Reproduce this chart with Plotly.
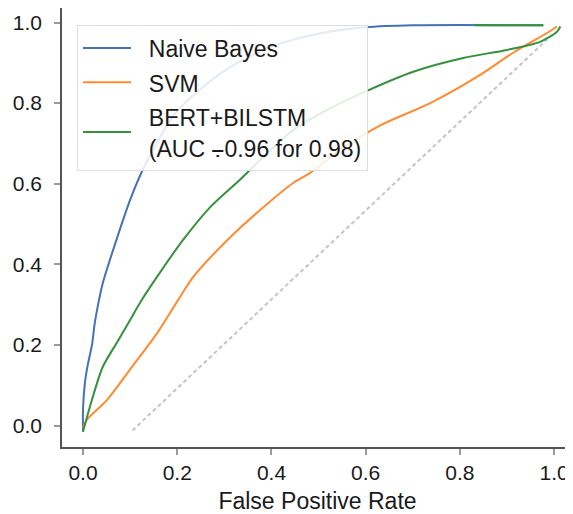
import plotly.graph_objects as go

# ROC curve data
nb_fpr = [0.0, 0.0, 0.004, 0.010, 0.019, 0.025, 0.034, 0.042, 0.064, 0.100, 0.132, 0.20, 0.30, 0.40, 0.50, 0.60, 0.70, 0.977]
nb_tpr = [-0.015, 0.04, 0.106, 0.150, 0.200, 0.255, 0.312, 0.354, 0.436, 0.560, 0.647, 0.78, 0.88, 0.94, 0.972, 0.988, 0.993, 0.993]

svm_fpr = [0.0, 0.008, 0.051, 0.104, 0.157, 0.202, 0.234, 0.306, 0.376, 0.446, 0.482, 0.546, 0.631, 0.737, 0.843, 0.913, 0.985, 1.006]
svm_tpr = [-0.005, 0.014, 0.064, 0.146, 0.229, 0.312, 0.369, 0.460, 0.535, 0.602, 0.627, 0.684, 0.745, 0.800, 0.870, 0.925, 0.974, 0.990]

bert_fpr = [0.0, 0.019, 0.042, 0.074, 0.100, 0.121, 0.157, 0.212, 0.270, 0.333, 0.376, 0.446, 0.518, 0.594, 0.701, 0.807, 0.900, 0.970, 1.006, 1.013, None, 0.83, 0.977]
bert_tpr = [-0.015, 0.064, 0.146, 0.210, 0.262, 0.305, 0.369, 0.460, 0.542, 0.610, 0.659, 0.733, 0.783, 0.826, 0.878, 0.912, 0.932, 0.952, 0.977, 0.990, None, 0.993, 0.993]

chance_fpr = [0.105, 0.985]
chance_tpr = [-0.012, 0.958]

PAD = "\u00a0\u00a0"
names = [PAD + "Naive Bayes", PAD + "SVM", PAD + "BERT+BILSTM<br>" + PAD + "(AUC \u2a2a0.96 for 0.98)"]
colors = ["#4472b4", "#ff8a30", "#35913d"]
tick_vals = [0.0, 0.2, 0.4, 0.6, 0.8, 1.0]
tick_text = ["0.0", "0.2", "0.4", "0.6", "0.8", "1.0"]

FONT = "Liberation Sans, Arial, sans-serif"

fig = go.Figure()
fig.add_trace(go.Scatter(x=chance_fpr, y=chance_tpr, mode="lines",
                         line=dict(color="#c4c4c4", width=2, dash="4px,3px"),
                         showlegend=False, hoverinfo="skip"))
for fx, ty, nm, col in zip([nb_fpr, svm_fpr, bert_fpr], [nb_tpr, svm_tpr, bert_tpr], names, colors):
    fig.add_trace(go.Scatter(x=fx, y=ty, mode="lines", connectgaps=False,
                             name="<span style='font-size:23px'>" + nm.replace("<br>", "</span><br><span style='font-size:23px'>") + "</span>",
                             line=dict(color=col, width=2, shape="spline", smoothing=0.8)))

axis_common = dict(
    showgrid=False, zeroline=False, showline=True, linecolor="#555555", linewidth=1.5,
    ticks="outside", ticklen=6, tickwidth=1.5, tickcolor="#999999",
    tickfont=dict(family=FONT, size=21, color="#1a1a1a"),
    tickvals=tick_vals, ticktext=tick_text, automargin=False,
)
fig.update_xaxes(range=[-0.0446, 1.040], mirror=True, **axis_common,
                 title=dict(text="False Positive Rate", standoff=12,
                            font=dict(family=FONT, size=23, color="#1a1a1a")))
fig.update_yaxes(range=[-0.053, 1.036], mirror=False, ticklabelstandoff=8, **axis_common)

# page body has an 8px margin, so the figure is sized/offset to compensate
fig.update_layout(
    width=565, height=506,
    margin=dict(l=54, r=0, t=0, b=67),
    paper_bgcolor="white", plot_bgcolor="white",
    legend=dict(x=0.0294, y=0.9613, xanchor="left", yanchor="top",
                bgcolor="rgba(255,255,255,0.85)", bordercolor="#dddddd", borderwidth=1,
                font=dict(family=FONT, size=24, color="#1a1a1a"),
                itemwidth=48, tracegroupgap=0),
    showlegend=True,
)
fig.write_html("out.html")
